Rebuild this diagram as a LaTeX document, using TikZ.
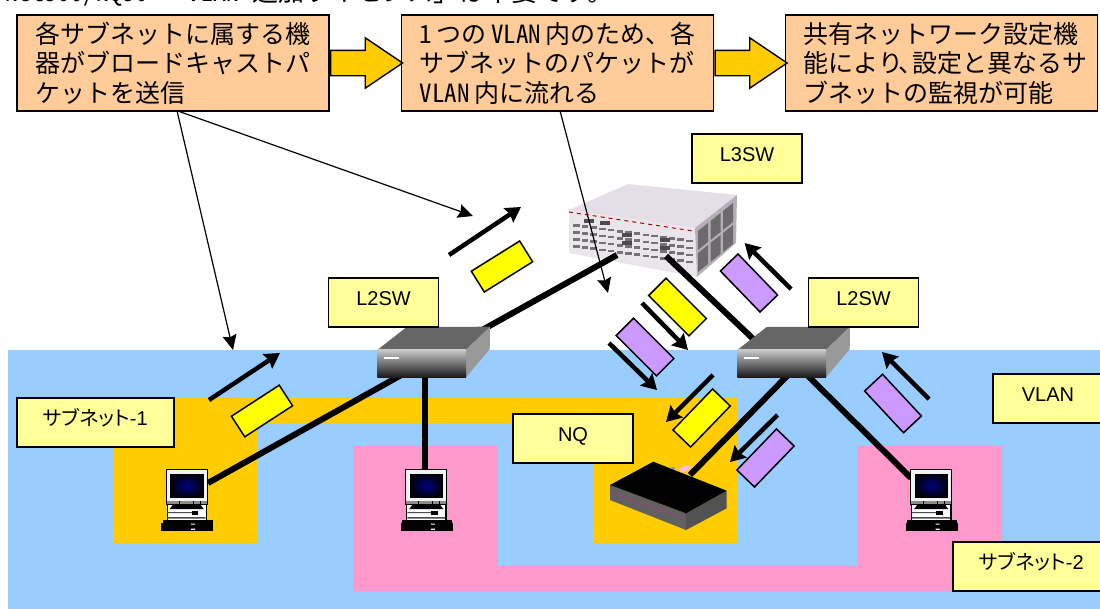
\documentclass[tikz,border=0pt]{standalone}
\usepackage{fontspec}
\setmainfont{Liberation Sans}
\newfontfamily\jpfont[RawFeature=+hwid]{Noto Sans CJK JP}
\newfontfamily\jpprop[RawFeature=+palt]{Noto Sans CJK JP}
\usetikzlibrary{arrows.meta,shapes.arrows,calc}
\definecolor{vlanBlue}{HTML}{99CCFF}
\definecolor{subnetOrange}{HTML}{FFCC00}
\definecolor{subnetPink}{HTML}{FF99CC}
\definecolor{noteFill}{HTML}{FFCC99}
\definecolor{tagFill}{HTML}{FFFF99}
\definecolor{packetYellow}{HTML}{FFFF00}
\definecolor{packetPurple}{HTML}{CC99FF}
\definecolor{chassisTop}{HTML}{E4DEE6}
\definecolor{chassisFront}{HTML}{E9E5EA}
\definecolor{chassisSide}{HTML}{B5AEB6}

\begin{document}
\begin{tikzpicture}
[x=1pt,y=-1pt,
  noteBox/.style={shape=rectangle,draw,line width=1.8pt,fill=noteFill,inner xsep=18pt,inner ysep=0pt,
    minimum height=96pt,text width=276pt,align=left,font=\jpfont\fontsize{25}{29.5}\selectfont},%
  tagBox/.style={shape=rectangle,draw,line width=1.8pt,fill=tagFill,inner sep=0pt,minimum height=49pt,
    text height=14pt,text depth=8pt,font=\fontsize{20}{24}\selectfont},%
  blockArrow/.style={shape=single arrow,draw,line width=1.4pt,fill=subnetOrange,inner xsep=0pt,inner ysep=12pt,
    minimum height=72pt,minimum width=49pt,single arrow tip angle=68,single arrow head extend=12.5pt,anchor=tail},%
  packetBox/.style={shape=rectangle,draw,line width=1.5pt,inner sep=0pt,minimum width=57pt,minimum height=24.5pt},%
  thinArrow/.style={->,>={Stealth[length=15pt,width=14pt,inset=2pt]},line width=1.2pt},%
  darkArrow/.style={->,>={Stealth[length=15pt,width=17pt,inset=2pt]},line width=4.5pt},%
  linkLine/.style={line width=6pt}]
\useasboundingbox (0,0) rectangle (1100,608);
\clip (0,0) rectangle (1100,608);
%% sentence cut off by the top edge
\node (topLine) at (5,1.5) [anchor=base west,inner sep=0pt,font=\jpfont\fontsize{26}{30}\selectfont]
  {Net500/NQ50 「VLAN 追加ライセンス」は不要です。};
%% areas
\fill[vlanBlue] (8,350) rectangle (1110,620);
\fill[subnetOrange] (113,398) -- (737.5,398) -- (737.5,543) -- (593,543) -- (593,423)
  -- (257.5,423) -- (257.5,543) -- (113,543) -- cycle;
\fill[subnetPink] (353,446) -- (497.5,446) -- (497.5,566) -- (857,566) -- (857,446)
  -- (1002,446) -- (1002,591) -- (353,591) -- cycle;
%% notes on top
\node (noteA) at (173,63) [noteBox] {各サブネットに属する機\\器がブロードキャストパ\\ケットを送信};
\node (noteB) at (557.5,63) [noteBox] {1\hspace{4.5pt}つの\hspace{4.5pt}VLAN\hspace{4.5pt}内のため、各\\サブネットのパケットが\\VLAN\hspace{4.5pt}内に流れる};
\node (noteC) at (941.5,63) [noteBox] {共有ネットワーク設定機\\能により\kern-5pt、\kern-11pt設定と異なるサ\\ブネットの監視が可能};
\node (stepA) at (noteA.east) [blockArrow] {};
\node (stepB) at (noteB.east) [blockArrow] {};
%% free ends of the connectors
\foreach \nodename/\x/\y in {noteAout/177/110.7, noteBout/560/110.7, tipA/473/216, tipB/233/350, tipC/608/293,
  upAs/449/255, upAe/521/207, upBs/209/400, upBe/280/353, upCs/791/289, upCe/744.6/243, upDs/929/399, upDe/882/352,
  downAs/642/303, downAe/688/350, downBs/609/343, downBe/657/390, downCs/713/375, downCe/666/422,
  downDs/777.5/415, downDe/730/462,
  l3PortA/617/255, l3PortB/666/256, sw1Mid/421.7/363.6, sw1Down/425/370, sw2Mid/781.7/366, sw2DownA/790/373,
  sw2DownB/800/368, pc1Port/208/483, pc2Port/425/472, pc3Port/911/478, nqPort/690/475}
{
  \coordinate (\nodename) at (\x,\y);
}
%% L3 switch, drawn directly
\fill[chassisTop] (569,210) -- (628,184) -- (737,195) -- (695,228) -- cycle;
\fill[chassisFront] (569,210) -- (695,228) -- (697,277) -- (569,253) -- cycle;
\fill[chassisSide] (695,228) -- (737,195) -- (736,243) -- (697,277) -- cycle;
\foreach \i in {0,1,2}
{
  \foreach \j in {0,1}
  {
    \fill[black!58] ($(698,231)+(\i*12.5,-\i*10)+(0,\j*22)$) -- ++(10,-8) -- ++(0,19) -- ++(-10,8) -- cycle;
  }
}
\draw[red!70!black,line width=1pt,dash pattern=on 4pt off 4pt] (569,212) -- (693,231);
\foreach \i in {0,...,13}
{
  \foreach \j in {0,1,2,3}
  {
    \fill[black!55] ({573+8.7*\i},{224+1.2*\i+7*\j}) rectangle ++(6.5,2.6);
  }
}
\foreach \x/\y in {622/233, 622/241, 660/238, 660/246, 584/219, 600/221}
{
  \fill[black!70] (\x,\y) rectangle ++(10,4);
}
%% links between the devices
\foreach \startnode/\endnode in {l3PortA/sw1Mid, l3PortB/sw2Mid, sw1Mid/pc1Port, sw1Down/pc2Port,
  sw2DownA/nqPort, sw2DownB/pc3Port}
{
  \draw[linkLine] (\startnode) -- (\endnode);
}
%% L2 switches
\foreach \nodename/\x in {sw1/421.7, sw2/781.7}
{
  \fill[black!60] (\x-44.4,350) -- (\x-15,327) -- (\x+68.3,326.7) -- (\x+44.3,350) -- cycle;
  \fill[black!40] (\x+44.3,350) -- (\x+68.3,326.7) -- (\x+68,349.3) -- (\x+44.3,377.3) -- cycle;
  \node (\nodename) at (\x,363.6) [minimum width=88.7pt,minimum height=27.4pt,inner sep=0pt,
    top color=black!22,middle color=black!42,bottom color=black!90] {};
  \fill[white] (\x-37.4,356.7) rectangle (\x-22.4,359.3);
}
%% PCs
\foreach \nodename/\x in {pc1/186.7, pc2/426.3, pc3/931.2}
{
  \begin{scope}[shift={(\x,470)}]
    \node (\nodename) at (0,17) [minimum width=41.3pt,minimum height=34.3pt,inner sep=0pt,
      draw=black,line width=1pt,fill=black!5] {};
    \draw[black,line width=.7pt,inner color=blue!50!black,outer color=black!95!blue] (-16,4) rectangle (16.5,27);
    \fill[black!45] (-20,30.5) rectangle (20,33.5);
    \foreach \t in {-8,6,13}
    {
      \fill[black] (\t,30.5) rectangle ++(.8,3);
    }
    \fill[white] (-19.5,35) rectangle (19.7,50);
    \draw[line width=1.2pt] (-19.5,35) -- (-19.5,50) (19.7,35) -- (19.7,50);
    \fill[black] (-14,35) -- (14,35) -- (17,39) -- (-17,39) -- cycle;
    \fill[black!70] (-19,42) rectangle (7,43) (-19,47) rectangle (19,48.5);
    \fill[black] (5,40.5) rectangle (11.5,45);
    \fill[black] (-24,50) rectangle (26,60.7);
    \fill[black] (-25.7,53) rectangle (26.6,60.7);
    \fill[white] (4.5,53.5) rectangle (8.5,54.5) (4.5,58.5) rectangle (8.5,59.8);
  \end{scope}
}
%% NQ box
\fill[black!62] (610,485) -- (686,513.3) -- (686,530) -- (610,500) -- cycle;
\fill[black!68] (686,513.3) -- (726.7,490.7) -- (726.7,508.3) -- (686,530) -- cycle;
\draw[magenta!70!black,line width=.7pt] (611.7,492.7) -- (683,518);
\fill[black] (610,485) -- (653.3,461.7) -- (726.7,490.7) -- (686,513.3) -- cycle;
\fill[magenta!25!white] (678,469) -- (688,464.5) -- (691,468) -- (682,473) -- cycle;
\fill[black!40] (670,466.5) rectangle (675,468.5);
%% labels
\foreach \nodename/\x/\y/\w/\caption in {tagA/383.5/302.5/110/L2SW, tagB/863.5/302.5/110/L2SW, tagC/747/158.5/110/L3SW,
  tagD/95.5/422.5/157/{{\jpprop サブネット}-1}, tagE/573/438.5/120/NQ, tagF/1048/398.5/110/VLAN,
  tagG/1031.5/566.5/157/{{\jpprop サブネット}-2}}
{
  \node (\nodename) at (\x,\y) [tagBox,minimum width=\w pt] {\caption};
}
%% packets
\foreach \nodename/\x/\y/\angle/\colorname in {pktA/502/266.5/32/packetYellow, pktB/262/411/33/packetYellow,
  pktC/677.5/307/-45/packetYellow, pktD/701.6/418/46/packetYellow, pktE/749/283/-46/packetPurple,
  pktF/645/347/-45/packetPurple, pktG/765.5/458/46/packetPurple, pktH/893/403.5/-47/packetPurple}
{
  \node (\nodename) at (\x,\y) [packetBox,fill=\colorname,rotate=\angle] {};
}
%% traffic direction
\foreach \startnode/\endnode in {upAs/upAe, upBs/upBe, upCs/upCe, upDs/upDe, downAs/downAe, downBs/downBe,
  downCs/downCe, downDs/downDe}
{
  \draw[darkArrow] (\startnode) -- (\endnode);
}
%% call-outs
\foreach \startnode/\endnode in {noteAout/tipA, noteAout/tipB, noteBout/tipC}
{
  \draw[thinArrow] (\startnode) -- (\endnode);
}
\end{tikzpicture}
\end{document}
